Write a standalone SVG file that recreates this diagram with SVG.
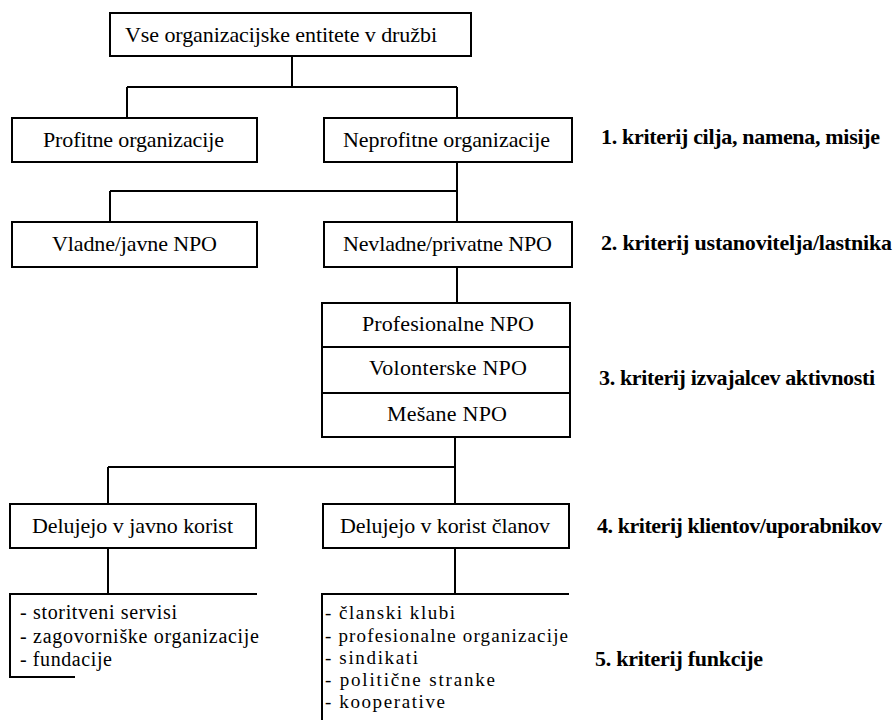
<svg xmlns="http://www.w3.org/2000/svg" width="893" height="720" viewBox="0 0 893 720">
<defs>
<style>
  .box { fill: #fff; stroke: #000; stroke-width: 2; }
  .ln { fill: none; stroke: #000; stroke-width: 2; }
</style>
</defs>
<rect width="893" height="720" fill="#fff"/>
<g id="connectors">
  <path class="ln" d="M292,56 V87 M127,87 H457 M127,87 V118 M457,87 V118"/>
  <path class="ln" d="M457,162 V222 M110,191 H457 M110,191 V222"/>
  <path class="ln" d="M457,267 V303"/>
  <path class="ln" d="M455,437 V504 M108,467 H455 M108,467 V504"/>
  <path class="ln" d="M108,548 V594 M455,548 V594"/>
</g>
<g font-family="Liberation Serif, Times New Roman, DejaVu Serif, serif" font-size="22" fill="#000">
<g id="n-root">
  <rect class="box" x="110" y="13" width="361" height="43"/>
  <text x="125" y="42" textLength="312">Vse organizacijske entitete v družbi</text>
</g>
<g id="n-profitne">
  <rect class="box" x="12" y="118" width="245" height="44"/>
  <text x="43" y="147" textLength="181">Profitne organizacije</text>
</g>
<g id="n-neprofitne">
  <rect class="box" x="324" y="118" width="248" height="44"/>
  <text x="343" y="147" textLength="207">Neprofitne organizacije</text>
</g>
<g id="n-vladne">
  <rect class="box" x="12" y="222" width="245" height="45"/>
  <text x="52" y="251" textLength="165">Vladne/javne NPO</text>
</g>
<g id="n-nevladne">
  <rect class="box" x="324" y="222" width="248" height="45"/>
  <text x="343" y="251" textLength="209">Nevladne/privatne NPO</text>
</g>
<g id="n-izvajalci">
  <rect class="box" x="322" y="303" width="248" height="134"/>
  <line class="ln" x1="322" y1="347" x2="570" y2="347" stroke-width="3"/>
  <line class="ln" x1="322" y1="393" x2="570" y2="393"/>
  <text x="362" y="331" textLength="172">Profesionalne NPO</text>
  <text x="369" y="375" textLength="158">Volonterske NPO</text>
  <text x="387" y="421" textLength="120">Mešane NPO</text>
</g>
<g id="n-javno">
  <rect class="box" x="10" y="504" width="246" height="44"/>
  <text x="32" y="533" textLength="201">Delujejo v javno korist</text>
</g>
<g id="n-clanov">
  <rect class="box" x="323" y="504" width="246" height="44"/>
  <text x="340" y="533" textLength="210">Delujejo v korist članov</text>
</g>
<g id="n-list-javno" font-size="20">
  <polyline class="ln" points="257,594 10,594 10,677 75,677"/>
  <text x="20" y="619" textLength="157">- storitveni servisi</text>
  <text x="20" y="643" textLength="239">- zagovorniške organizacije</text>
  <text x="20" y="666" textLength="92">- fundacije</text>
</g>
<g id="n-list-clanov" font-size="19">
  <polyline class="ln" points="569,594 322,594 322,720"/>
  <text x="325" y="619" textLength="130">- članski klubi</text>
  <text x="325" y="642" textLength="243">- profesionalne organizacije</text>
  <text x="325" y="664" textLength="93">- sindikati</text>
  <text x="325" y="686" textLength="170">- politične stranke</text>
  <text x="325" y="708" textLength="120">- kooperative</text>
</g>
<g id="criteria" font-weight="bold">
  <text x="601" y="144" textLength="279">1. kriterij cilja, namena, misije</text>
  <text x="601" y="250" textLength="291">2. kriterij ustanovitelja/lastnika</text>
  <text x="599" y="385" textLength="276">3. kriterij izvajalcev aktivnosti</text>
  <text x="597" y="533" textLength="285">4. kriterij klientov/uporabnikov</text>
  <text x="595" y="666" textLength="168">5. kriterij funkcije</text>
</g>
</g>
</svg>
